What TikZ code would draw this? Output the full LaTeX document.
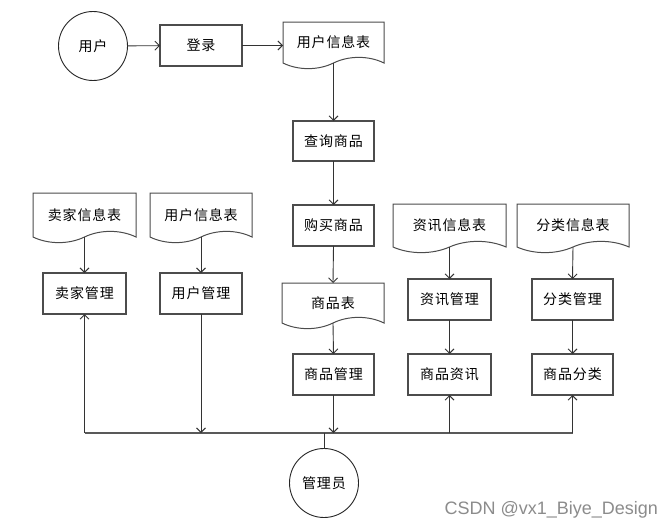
\documentclass[tikz,border=0pt]{standalone}
\usepackage{fontspec}
\setmainfont{Liberation Sans}
\newfontfamily\cjk[LetterSpace=6]{Noto Sans CJK SC}
\usetikzlibrary{arrows.meta,calc}
\begin{document}
\begin{tikzpicture}[x=1pt,y=-1pt,
  every node/.style={outer sep=0pt, inner sep=1pt, font=\cjk\fontsize{14}{16}\selectfont},
  boxnode/.style={draw=black!70, line width=1.05pt, fill=white},
  docnode/.style={draw=none},
  docline/.style={draw=black!70, line width=1pt},
  circnode/.style={draw=black!85, line width=0.9pt, circle, minimum size=69pt},
  conn/.style={draw=black!80, line width=0.9pt},
  arr/.style={conn, -{Straight Barb[length=4.5pt,width=9pt]}},
  bus/.style={draw=black!65, line width=1.5pt}
]
\useasboundingbox (0,0) rectangle (670,530);
\fill[white] (0,0) rectangle (670,530);

% circles
\node[circnode] (user) at (93,46) {用户};
\node[circnode] (admin) at (324,483) {管理员};

% boxes
\node[boxnode, minimum width=82pt, minimum height=41pt] (login) at (201,45.5) {登录};
\node[boxnode, minimum width=81pt, minimum height=40pt] (query) at (333.5,141) {查询商品};
\node[boxnode, minimum width=81pt, minimum height=41pt] (buy) at (333.5,225.5) {购买商品};
\node[boxnode, minimum width=81pt, minimum height=41pt] (spgl) at (333.5,374.5) {商品管理};
\node[boxnode, minimum width=83pt, minimum height=41pt] (zxgl) at (449.5,299.5) {资讯管理};
\node[boxnode, minimum width=83pt, minimum height=41pt] (spzx) at (449.5,374.5) {商品资讯};
\node[boxnode, minimum width=81pt, minimum height=41pt] (flgl) at (572.5,299.5) {分类管理};
\node[boxnode, minimum width=81pt, minimum height=41pt] (spfl) at (572.5,374.5) {商品分类};
\node[boxnode, minimum width=83pt, minimum height=41pt] (mjgl) at (84.5,293.5) {卖家管理};
\node[boxnode, minimum width=82pt, minimum height=41pt] (yhgl) at (201,293.5) {用户管理};

% documents
\node[docnode, minimum width=101pt, minimum height=41pt] (d0) at (333.5,42.5) {用户信息表};
\node[docnode, minimum width=102pt, minimum height=40pt] (dsp) at (333,303) {商品表};
\node[docnode, minimum width=103pt, minimum height=44pt] (dmj) at (84.5,215) {卖家信息表};
\node[docnode, minimum width=102pt, minimum height=44pt] (dyh) at (201,215) {用户信息表};
\node[docnode, minimum width=113pt, minimum height=43pt] (dzx) at (449.5,225.5) {资讯信息表};
\node[docnode, minimum width=112pt, minimum height=43pt] (dfl) at (573,225.5) {分类信息表};

\foreach \n in {d0,dsp,dmj,dyh,dzx,dfl}{
  \draw[docline, line join=miter] (\n.south west) -- (\n.north west) -- (\n.north east) -- (\n.south east)
    .. controls ($(\n.south east)!0.15!(\n.south west)+(0,-7.5)$) and ($(\n.south east)!0.35!(\n.south west)+(0,-7.5)$) .. (\n.south)
    .. controls ($(\n.south west)!0.35!(\n.south east)+(0,7.5)$) and ($(\n.south west)!0.15!(\n.south east)+(0,7.5)$) .. (\n.south west) -- cycle;
}

% top flow
\draw[arr] (user) -- (login);
\draw[arr] (login.east) -- (login.east -| d0.west);
\draw[arr] (d0.south) -- (query.north);
\draw[arr] (query) -- (buy);
\draw[arr] (buy.south) -- (dsp.north);
\draw[arr] (dsp.south) -- (spgl.north);

% side columns
\draw[arr] (dmj.south) -- (mjgl.north);
\draw[arr] (dyh.south) -- (yhgl.north);
\draw[arr] (dzx.south) -- (zxgl.north);
\draw[arr] (zxgl) -- (spzx);
\draw[arr] (dfl.south) -- (flgl.north);
\draw[arr] (flgl) -- (spfl);

% bus
\coordinate (busL) at (84.5,433);
\coordinate (busR) at (572.5,433);
\draw[bus] (busL) -- (busR);
\draw[arr] (busL) -- (mjgl.south);
\draw[arr] (yhgl.south) -- (yhgl.south |- busL);
\draw[arr] (spgl.south) -- (spgl.south |- busL);
\draw[arr] (spzx.south |- busL) -- (spzx.south);
\draw[arr] (busR) -- (spfl.south);
\draw[conn] (admin.north) -- (admin.north |- busL);

% watermark
\node[font=\fontsize{18}{20}\selectfont, text=black!45, anchor=east, inner sep=0pt] (wm) at (658,510) {CSDN @vx1\_Biye\_Design};
\end{tikzpicture}
\end{document}
